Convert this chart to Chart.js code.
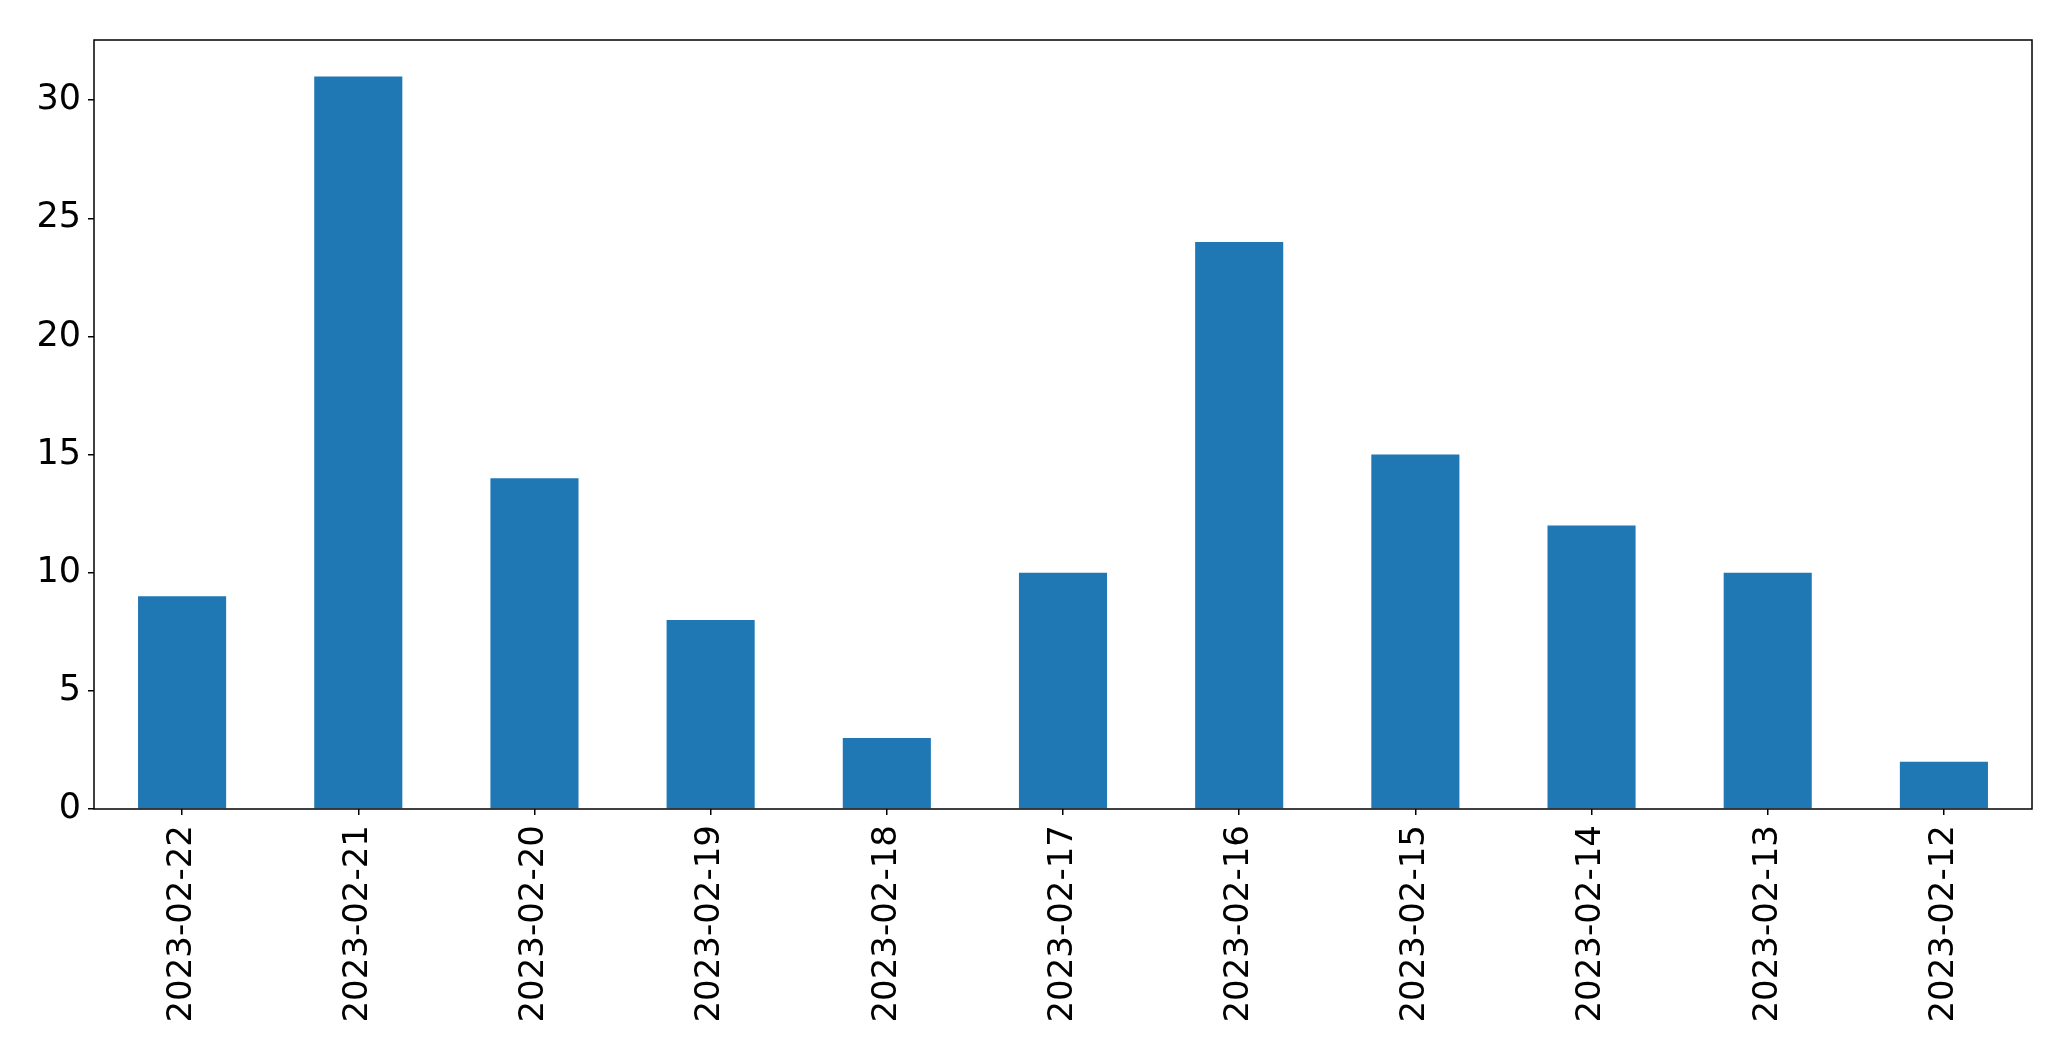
<!DOCTYPE html>
<html>
<head>
<meta charset="utf-8">
<script src="https://cdn.jsdelivr.net/npm/chart.js@4.4.0/dist/chart.umd.min.js"></script>
<style>
    html, body { margin: 0; padding: 0; background: #ffffff; }
    #wrap { width: 2071px; height: 1061px; position: relative; }
</style>
</head>
<body>
<div id="wrap"><canvas id="count-canv"></canvas></div>
<script>
const labels = [
    '2023-02-22', '2023-02-21', '2023-02-20', '2023-02-19', '2023-02-18', '2023-02-17',
    '2023-02-16', '2023-02-15', '2023-02-14', '2023-02-13', '2023-02-12',
];
const counts = [9, 31, 14, 8, 3, 10, 24, 15, 12, 10, 2];
const yTicks = [0, 5, 10, 15, 20, 25, 30];

const bar_blue = '#1f77b4';
const black = '#000000';

// full box round the plot, like the matplotlib frame
const frameBox = {
    id: 'frameBox',
    afterDatasetsDraw(chart) {
        const a = chart.chartArea;
        const ctx = chart.ctx;
        ctx.save();
        ctx.strokeStyle = black;
        ctx.lineWidth = 1.5;
        ctx.strokeRect(a.left, a.top, a.right - a.left, a.bottom - a.top);
        ctx.restore();
    }
};

const data = {
    labels: labels,
    datasets: [{
        data: counts,
        backgroundColor: bar_blue,
        borderWidth: 0,
        barPercentage: 0.5,
        categoryPercentage: 1.0,
    }]
};

const config = {
    type: 'bar',
    data,
    plugins: [frameBox],
    options: {
        animation: false,
        responsive: true,
        maintainAspectRatio: false,
        layout: {
            padding: { top: 40, right: 39, left: 0, bottom: 0 }
        },
        scales: {
            x: {
                offset: true,
                border: { display: false },
                grid: {
                    display: true,
                    offset: false,
                    drawOnChartArea: false,
                    drawTicks: true,
                    tickLength: 6,
                    color: black,
                    lineWidth: 1.5,
                },
                ticks: {
                    font: { size: 34, family: "'DejaVu Sans', sans-serif" },
                    color: black,
                    minRotation: 90,
                    maxRotation: 90,
                    padding: 10,
                    autoSkip: false,
                },
                afterFit(scale) { scale.height = 252; }
            },
            y: {
                min: 0,
                max: 32.55,
                border: { display: false },
                grid: {
                    display: true,
                    drawOnChartArea: false,
                    drawTicks: true,
                    tickLength: 6,
                    color: black,
                    lineWidth: 1.5,
                },
                ticks: {
                    stepSize: 5,
                    includeBounds: false,
                    font: { size: 35, family: "'DejaVu Sans', sans-serif" },
                    color: black,
                    padding: 7,
                },
                afterBuildTicks(scale) {
                    scale.ticks = yTicks.map(v => ({ value: v }));
                },
                afterFit(scale) { scale.width = 94; }
            }
        },
        plugins: {
            legend: { display: false },
            tooltip: { enabled: false }
        }
    }
};

var myChart = new Chart(
    document.getElementById('count-canv'),
    config
);
</script>
</body>
</html>
